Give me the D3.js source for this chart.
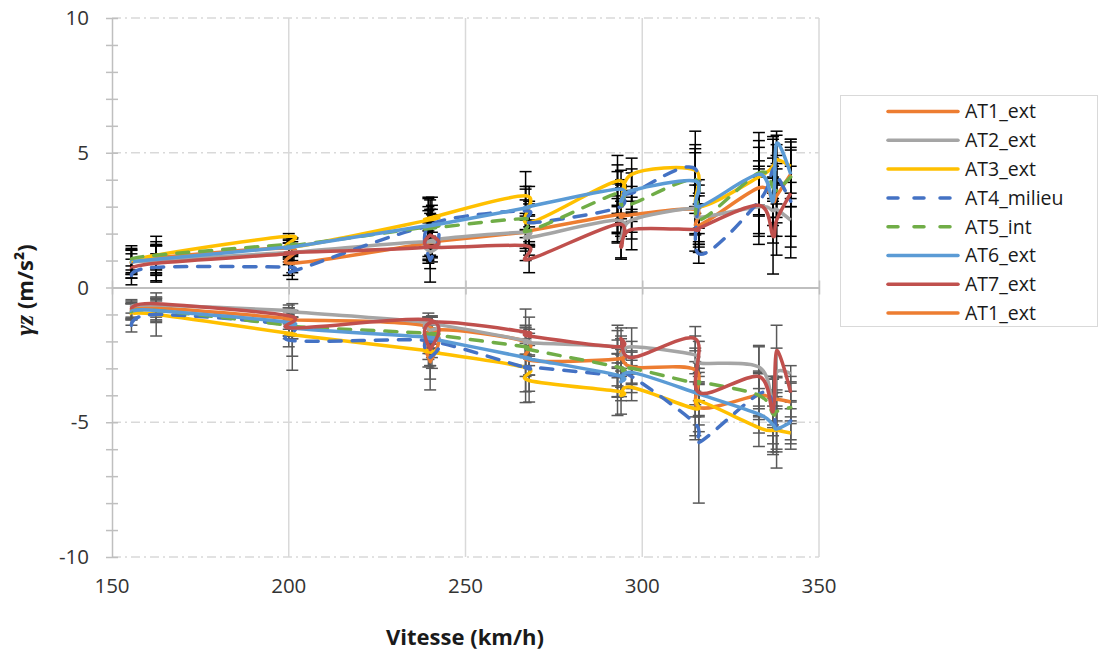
<!DOCTYPE html>
<html><head><meta charset="utf-8">
<script src="https://cdn.jsdelivr.net/npm/d3@7"></script>
<style>
body{margin:0;background:#fff}
svg{display:block}
text{font-family:"Open Sans",sans-serif}
</style>
</head><body>
<svg id="c" width="1115" height="653"></svg>
<script>
// ---- data ----
const speeds = [155.5, 162.5, 200, 201, 239.5, 240, 240.5, 267, 268, 293, 294, 297, 315, 316, 333, 337, 338, 342];
const seriesNames = ["AT1_ext", "AT2_ext", "AT3_ext", "AT4_milieu", "AT5_int", "AT6_ext", "AT7_ext"];
const legendNames = ["AT1_ext", "AT2_ext", "AT3_ext", "AT4_milieu", "AT5_int", "AT6_ext", "AT7_ext", "AT1_ext"];
const xTicks = [150, 200, 250, 300, 350];
const yTicks = [-10, -5, 0, 5, 10];

// positive branch (upper curves)
const posAT1 = [0.9, 1.1, 1.45, 0.9, 1.65, 1.7, 1.7, 2.05, 2.1, 2.7, 2.6, 2.7, 2.9, 2.3, 3.7, 3.2, 3.4, 4.2];
const posAT2 = [0.95, 1.0, 1.3, 1.3, 1.7, 1.3, 1.75, 2.05, 1.85, 2.5, 1.8, 2.5, 2.95, 2.6, 3.0, 2.85, 2.9, 2.5];
const posAT3 = [0.93, 1.2, 1.9, 1.5, 2.5, 2.55, 2.6, 3.4, 2.4, 3.95, 3.0, 4.2, 4.35, 3.0, 4.1, 4.5, 4.75, 4.5];
const posAT4 = [0.45, 0.75, 0.75, 0.6, 2.25, 1.0, 2.35, 2.85, 2.4, 2.95, 3.55, 3.5, 4.4, 1.25, 3.2, 4.4, 4.2, 3.2];
const posAT5 = [1.05, 1.2, 1.6, 1.55, 2.25, 2.2, 2.2, 2.55, 2.1, 3.5, 3.1, 3.1, 4.0, 2.5, 4.25, 3.7, 3.6, 4.1];
const posAT6 = [0.95, 1.05, 1.5, 1.5, 2.3, 2.3, 2.3, 2.95, 3.0, 3.65, 3.2, 3.6, 3.95, 3.0, 4.2, 3.2, 5.35, 4.2];
const posAT7 = [0.7, 0.9, 1.25, 1.3, 1.5, 1.95, 1.5, 1.55, 1.05, 2.35, 1.5, 2.15, 2.15, 2.2, 3.05, 1.9, 2.5, 3.5];

// negative branch (lower curves)
const negAT1 = [-0.85, -0.75, -1.15, -1.2, -1.45, -2.75, -1.6, -2.0, -2.7, -2.65, -2.4, -2.95, -3.05, -4.45, -4.0, -4.2, -4.15, -4.25];
const negAT2 = [-0.7, -0.65, -0.85, -0.9, -1.3, -1.6, -1.35, -1.97, -2.05, -2.2, -2.5, -2.2, -2.5, -2.8, -2.95, -4.3, -3.15, -3.2];
const negAT3 = [-1.0, -1.0, -1.7, -1.75, -2.35, -2.4, -2.4, -2.97, -3.45, -3.85, -4.0, -3.7, -4.5, -4.2, -5.2, -5.3, -5.3, -5.4];
const negAT4 = [-1.4, -1.0, -1.4, -1.97, -1.97, -2.6, -2.0, -2.97, -2.95, -3.27, -3.35, -3.3, -5.05, -5.75, -3.95, -4.3, -5.2, -4.95];
const negAT5 = [-0.9, -0.85, -1.4, -1.45, -1.7, -1.75, -1.75, -2.2, -2.3, -2.95, -3.1, -3.0, -3.55, -3.5, -4.0, -4.7, -4.6, -4.45];
const negAT6 = [-0.9, -0.85, -1.3, -1.5, -1.85, -1.9, -1.9, -2.6, -2.65, -3.25, -3.5, -3.15, -3.9, -3.95, -4.7, -5.1, -5.25, -5.0];
const negAT7 = [-0.8, -0.6, -1.05, -1.5, -1.2, -2.3, -1.3, -1.65, -1.8, -2.2, -1.9, -2.6, -1.9, -3.9, -3.3, -4.6, -2.35, -3.9];

// error bar half-lengths
const errPosAT1 = [0.35, 0.45, 0.3, 0.35, 0.6, 0.5, 0.55, 0.6, 0.55, 0.7, 0.6, 0.65, 0.9, 0.8, 1.0, 0.9, 1.0, 0.9];
const errPosAT2 = [0.6, 0.55, 0.35, 0.3, 0.7, 0.6, 0.65, 0.7, 0.65, 0.8, 0.75, 0.7, 1.0, 0.9, 1.1, 1.2, 1.0, 1.4];
const errPosAT3 = [0.45, 0.7, 0.1, 0.3, 0.8, 0.7, 0.75, 0.9, 0.8, 0.95, 0.7, 0.6, 0.95, 0.8, 1.1, 1.0, 0.9, 1.0];
const errPosAT4 = [0.35, 0.5, 0.3, 0.3, 1.1, 0.8, 0.7, 0.8, 0.7, 0.9, 0.8, 0.75, 1.4, 0.35, 1.2, 1.2, 1.1, 1.3];
const errPosAT5 = [0.4, 0.5, 0.3, 0.3, 0.6, 0.55, 0.5, 0.7, 0.6, 0.8, 0.7, 0.65, 1.0, 0.9, 1.2, 1.1, 1.0, 1.1];
const errPosAT6 = [0.45, 0.5, 0.4, 0.35, 0.7, 0.6, 0.6, 0.8, 0.75, 0.9, 0.8, 0.8, 1.2, 1.0, 1.55, 1.3, 0.45, 1.2];
const errPosAT7 = [0.35, 0.7, 0.4, 0.4, 0.6, 0.5, 0.55, 0.55, 0.5, 0.7, 0.4, 0.75, 0.8, 0.9, 1.45, 1.4, 1.3, 2.0];

const errNegAT1 = [0.3, 0.35, 0.4, 0.35, 0.5, 1.05, 0.5, 0.6, 0.55, 0.7, 0.6, 0.6, 0.8, 0.9, 0.8, 0.9, 0.8, 0.7];
const errNegAT2 = [0.25, 0.3, 0.2, 0.3, 0.2, 0.5, 0.3, 0.5, 0.5, 0.6, 0.6, 0.7, 0.7, 0.8, 0.8, 1.0, 0.9, 0.3];
const errNegAT3 = [0.4, 0.8, 0.5, 0.8, 0.6, 0.5, 0.6, 0.9, 0.8, 0.9, 0.7, 0.5, 1.0, 0.9, 0.7, 0.9, 0.8, 0.6];
const errNegAT4 = [0.25, 0.3, 0.5, 1.1, 0.7, 0.8, 0.6, 1.3, 0.9, 0.8, 0.7, 0.6, 0.6, 2.25, 0.8, 0.9, 0.8, 0.7];
const errNegAT5 = [0.3, 0.4, 0.4, 0.35, 0.6, 0.5, 0.5, 0.7, 0.6, 0.7, 0.6, 0.6, 0.8, 0.7, 0.9, 0.8, 0.7, 0.6];
const errNegAT6 = [0.3, 0.35, 0.5, 0.4, 0.6, 0.55, 0.5, 0.7, 0.6, 0.8, 0.7, 0.6, 0.9, 0.8, 0.7, 1.0, 1.45, 0.8];
const errNegAT7 = [0.3, 0.2, 0.3, 0.4, 0.1, 0.6, 0.2, 0.85, 0.7, 0.8, 0.4, 0.6, 0.45, 0.9, 1.1, 1.2, 0.95, 0.6];

// ---- styles ----
const colors = ["#ED7D31", "#A5A5A5", "#FFC000", "#4472C4", "#70AD47", "#5B9BD5", "#C0504D", "#ED7D31"];
const dashed = [false, false, false, true, true, false, false, false];

const posData = [posAT1, posAT2, posAT3, posAT4, posAT5, posAT6, posAT7];
const negData = [negAT1, negAT2, negAT3, negAT4, negAT5, negAT6, negAT7];
const errPos = [errPosAT1, errPosAT2, errPosAT3, errPosAT4, errPosAT5, errPosAT6, errPosAT7];
const errNeg = [errNegAT1, errNegAT2, errNegAT3, errNegAT4, errNegAT5, errNegAT6, errNegAT7];

const svg = d3.select("#c");
const x = d3.scaleLinear().domain([150, 350]).range([112, 819]);
const y = d3.scaleLinear().domain([-10, 10]).range([557, 18]);

// gridlines
const grid = svg.append("g");
grid.selectAll("line.v").data(xTicks.filter(d => d > 150)).join("line")
  .attr("x1", d => x(d)).attr("x2", d => x(d)).attr("y1", y(10)).attr("y2", y(-10))
  .attr("stroke", "#d9d9d9").attr("stroke-width", 1.5);
grid.selectAll("line.h").data(yTicks.filter(d => d !== 0)).join("line")
  .attr("x1", x(150)).attr("x2", x(350)).attr("y1", d => y(d)).attr("y2", d => y(d))
  .attr("stroke", "#d9d9d9").attr("stroke-width", 1.5).attr("stroke-dasharray", "9,4,2,4");

// y axis
const yAxis = svg.append("g").attr("transform", `translate(${x(150)},0)`)
  .call(d3.axisLeft(y).tickValues(d3.range(-10, 11, 1)).tickSize(0)
    .tickFormat(d => (d % 5 === 0 ? d : "")));
yAxis.select(".domain").attr("stroke", "#bfbfbf").attr("stroke-width", 1.5);
yAxis.selectAll(".tick line").attr("x1", -6).attr("x2", 6).attr("stroke", "#bfbfbf").attr("stroke-width", 1.5);
yAxis.selectAll(".tick text").attr("x", -23).attr("font-size", 20.5).attr("fill", "#333")
  .attr("font-family", "Open Sans");

// x axis line at zero
const xAxis = svg.append("g").attr("transform", `translate(0,${y(0)})`)
  .call(d3.axisBottom(x).tickValues(xTicks).tickSize(0).tickFormat(""));
xAxis.select(".domain").attr("stroke", "#bfbfbf").attr("stroke-width", 2);
xAxis.selectAll(".tick line").attr("y1", -7).attr("y2", 7).attr("stroke", "#bfbfbf").attr("stroke-width", 1.5);

// x labels at bottom
svg.append("g").selectAll("text").data(xTicks).join("text")
  .attr("x", d => x(d)).attr("y", 593).attr("text-anchor", "middle")
  .attr("font-size", 20.5).attr("fill", "#333").text(d => d);

// axis titles
svg.append("text").attr("x", 465).attr("y", 645).attr("text-anchor", "middle")
  .attr("font-size", 22).attr("font-weight", "bold").attr("fill", "#1a1a1a").text("Vitesse (km/h)");
const yt = svg.append("text").attr("transform", "translate(33,290) rotate(-90)")
  .attr("text-anchor", "middle").attr("font-size", 22).attr("font-weight", "bold").attr("fill", "#1a1a1a");
yt.append("tspan").attr("font-family", "Liberation Serif").attr("font-style", "italic").attr("font-size", 26).text("γz");
yt.append("tspan").text(" (m/s²)");

// error bars
const eb = svg.append("g");
function drawErr(vals, errs, col) {
  const g = eb.append("g").attr("stroke", col).attr("stroke-width", 1.5);
  speeds.forEach((s, i) => {
    const cx = x(s), y1 = y(vals[i] + errs[i]), y2 = y(vals[i] - errs[i]);
    g.append("line").attr("x1", cx).attr("x2", cx).attr("y1", y1).attr("y2", y2);
    g.append("line").attr("x1", cx - 6).attr("x2", cx + 6).attr("y1", y1).attr("y2", y1);
    g.append("line").attr("x1", cx - 6).attr("x2", cx + 6).attr("y1", y2).attr("y2", y2);
  });
}
posData.forEach((v, k) => drawErr(v, errPos[k], "#000"));
negData.forEach((v, k) => drawErr(v, errNeg[k], "#595959"));

// lines
const line = d3.line().x(d => x(d[0])).y(d => y(d[1])).curve(d3.curveCatmullRom.alpha(0));
const lg = svg.append("g").attr("fill", "none");
function drawLine(vals, k) {
  lg.append("path").datum(speeds.map((s, i) => [s, vals[i]]))
    .attr("d", line).attr("stroke", colors[k]).attr("stroke-width", 3.5)
    .attr("stroke-linecap", dashed[k] ? "round" : "butt").attr("stroke-linejoin", "round")
    .attr("stroke-dasharray", dashed[k] ? "12,11" : null);
}
posData.forEach((v, k) => drawLine(v, k));
negData.forEach((v, k) => drawLine(v, k));

// legend
const leg = svg.append("g");
leg.append("rect").attr("x", 840.5).attr("y", 95.5).attr("width", 257).attr("height", 231)
  .attr("fill", "#fff").attr("stroke", "#d9d9d9").attr("stroke-width", 1);
legendNames.forEach((n, i) => {
  const yy = 111.5 + i * 28.8;
  leg.append("line").attr("x1", 888).attr("x2", 958).attr("y1", yy).attr("y2", yy)
    .attr("stroke", colors[i]).attr("stroke-width", 3.5).attr("stroke-linecap", "round")
    .attr("stroke-dasharray", dashed[i] ? "10,16" : null);
  leg.append("text").attr("x", 965).attr("y", yy).attr("dy", "0.35em")
    .attr("font-size", 19.5).attr("fill", "#1a1a1a").text(n);
});
</script>
</body></html>
